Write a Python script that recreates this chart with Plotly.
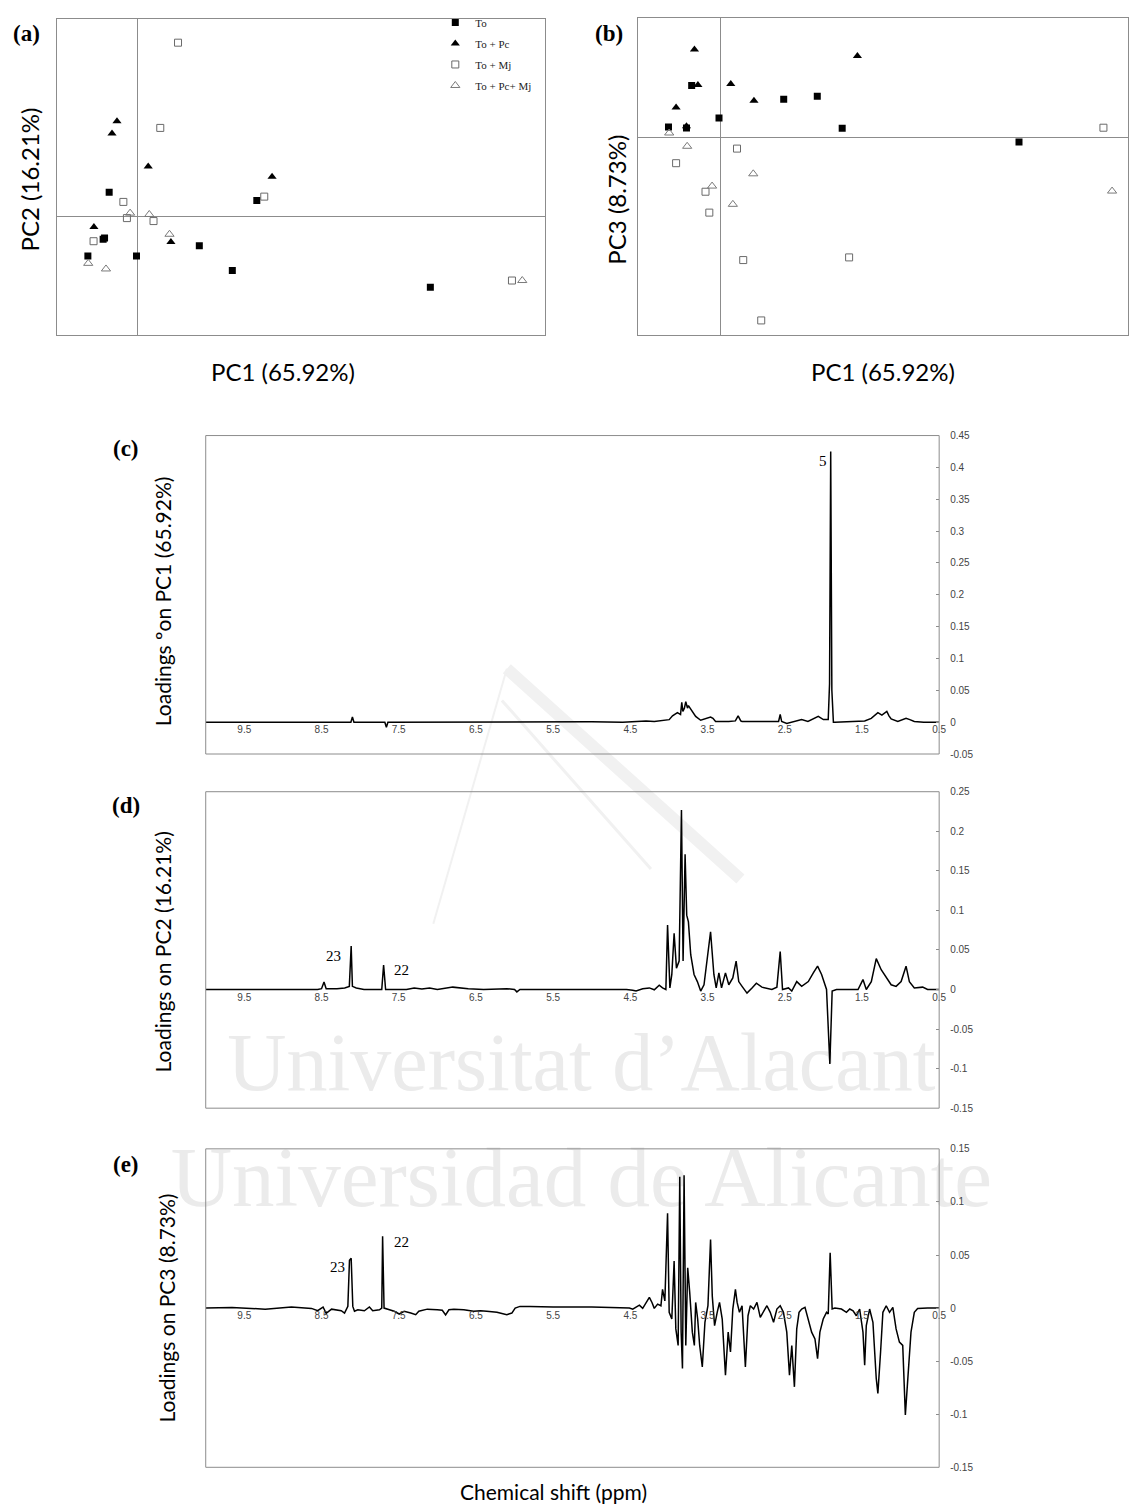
import plotly.graph_objects as go

W, H = 1135, 1511

# ---------------- PCA scores ----------------
# Panel (a): PC1 vs PC2
a_to_pc1 = [-0.80, -0.93, -0.97, -1.40, -0.03, 1.74, 2.67, 3.36, 8.25]
a_to_pc2 = [0.73, -0.65, -0.69, -1.20, -1.20, -0.89, -1.64, 0.48, -2.14]
a_pc_pc1 = [-0.58, -0.72, 0.30, 3.79, -1.23, 0.94]
a_pc_pc2 = [2.88, 2.51, 1.51, 1.20, -0.32, -0.77]
a_mj_pc1 = [1.14, 0.64, -0.40, 3.57, -0.30, 0.45, -1.24, 10.55]
a_mj_pc2 = [5.26, 2.68, 0.44, 0.60, -0.05, -0.14, -0.75, -1.94]
a_pcmj_pc1 = [-0.21, 0.33, 0.90, -1.39, -0.89, 10.84]
a_pcmj_pc2 = [0.10, 0.06, -0.54, -1.42, -1.59, -1.94]

# Panel (b): PC1 vs PC3
b_to_pc1 = [-1.50, -0.98, -0.83, -0.04, 1.83, 2.80, 3.52, 8.63]
b_to_pc3 = [0.31, 0.28, 1.56, 0.58, 1.15, 1.24, 0.27, -0.14]
b_pc_pc1 = [-0.75, 3.96, -0.65, 0.30, 0.97, -1.28, -0.98]
b_pc_pc3 = [2.65, 2.45, 1.58, 1.61, 1.10, 0.90, 0.33]
b_mj_pc1 = [11.07, 0.48, -1.28, -0.43, -0.32, 0.66, 3.72, 1.18]
b_mj_pc3 = [0.29, -0.34, -0.78, -1.64, -2.27, -3.70, -3.62, -5.52]
b_pcmj_pc1 = [-1.48, -0.96, 0.95, -0.24, 0.36, 11.32]
b_pcmj_pc3 = [0.13, -0.27, -1.10, -1.47, -2.02, -1.62]

group_names = ["To", "To + Pc", "To + Mj", "To + Pc+ Mj"]

# ---------------- Loadings (chemical shift, ppm) ----------------
pc1_ppm = [10.0, 9.0, 8.4, 8.12, 8.10, 8.08, 7.68, 7.66, 7.64, 6.5, 5.9, 5.0, 4.6,
           4.383, 4.297, 4.19, 4.083, 3.997, 3.954, 3.890, 3.850, 3.834, 3.820, 3.800,
           3.782, 3.760, 3.748, 3.718, 3.654, 3.589, 3.525, 3.461, 3.43, 3.396, 3.225,
           3.14, 3.104, 3.07, 3.053, 2.8, 2.58, 2.559, 2.54, 2.474, 2.40, 2.281, 2.20,
           2.066, 2.00, 1.937, 1.92, 1.905, 1.89, 1.87, 1.851, 1.465, 1.38, 1.294,
           1.242, 1.178, 1.15, 1.122, 1.036, 0.929, 0.88, 0.822, 0.7, 0.5]
pc1_load = [0.0, 0.0005, 0.0, 0.0, 0.008, 0.0, 0.0, -0.008, 0.0, 0.0005, 0.0, 0.0005, 0.0,
            0.001, 0.002, 0.001, 0.003, 0.004, 0.010, 0.015, 0.012, 0.031, 0.017, 0.022,
            0.032, 0.022, 0.026, 0.020, 0.009, 0.003, 0.005, 0.008, 0.006, 0.001, 0.001,
            0.002, 0.010, 0.002, 0.001, 0.0005, 0.001, 0.012, 0.001, -0.002, 0.0, 0.004, 0.001,
            0.009, 0.004, 0.004, 0.06, 0.425, 0.05, 0.0, 0.0, 0.002, 0.006, 0.015,
            0.011, 0.017, 0.010, 0.005, 0.001, 0.006, 0.004, 0.001, 0.0, 0.0]

pc2_ppm = [10.0, 9.0, 8.55, 8.50, 8.468, 8.44, 8.30, 8.20, 8.14, 8.116, 8.10, 8.05, 8.0,
           7.95, 7.72, 7.696, 7.67, 7.4, 7.3, 7.2, 7.1, 7.0, 6.8, 6.6, 6.4, 6.1, 6.0,
           5.97, 5.93, 5.0, 4.55,
           4.469, 4.426, 4.340, 4.254, 4.190, 4.126, 4.083, 4.040, 4.018, 3.988, 3.963,
           3.933, 3.903, 3.868, 3.838, 3.817, 3.791, 3.770, 3.748, 3.718, 3.675, 3.632,
           3.589, 3.546, 3.461, 3.418, 3.388, 3.353, 3.319, 3.268, 3.225, 3.173, 3.130,
           3.096, 3.053, 2.989, 2.924, 2.868, 2.796, 2.667, 2.602, 2.559, 2.529, 2.452,
           2.409, 2.345, 2.281, 2.195, 2.130, 2.075, 2.023, 1.959, 1.916, 1.886, 1.830,
           1.551, 1.487, 1.444, 1.379, 1.315, 1.251, 1.186, 1.122, 1.058, 0.993, 0.929,
           0.886, 0.822, 0.714, 0.650, 0.5]
pc2_load = [0.0, 0.0, 0.0, 0.001, 0.0096, 0.001, 0.001, 0.002, 0.004, 0.055, 0.004, 0.002, 0.001,
            0.0, 0.0, 0.031, 0.0, 0.0, 0.002, 0.0005, 0.002, 0.0, 0.003, 0.001, 0.0, 0.001, 0.0,
            -0.003, 0.0, 0.0, 0.0,
            -0.001, -0.002, 0.001, 0.002, -0.0004, 0.0054, 0.002, 0.0, 0.0815, 0.002, 0.019,
            0.071, 0.027, 0.036, 0.227, 0.036, 0.171, 0.094, 0.0855, 0.044, 0.019, 0.010,
            -0.002, 0.006, 0.073, 0.019, 0.002, 0.021, 0.002, 0.021, 0.006, 0.0146, 0.036,
            0.010, 0.004, -0.0046, 0.002, 0.008, 0.003, 0.0, 0.003, 0.048, 0.0, 0.002,
            -0.002, 0.010, 0.004, 0.010, 0.021, 0.0295, 0.019, 0.0, -0.094, -0.002, 0.0,
            0.0, 0.0125, 0.0, 0.010, 0.039, 0.025, 0.0146, 0.006, 0.004, 0.010, 0.0295,
            0.010, 0.002, 0.003, 0.0, 0.0]

pc3_ppm = [10.0, 9.66, 9.23, 8.89, 8.63, 8.55, 8.48, 8.44, 8.37, 8.245, 8.202, 8.159,
           8.138, 8.116, 8.095, 8.073, 8.03, 7.945, 7.88, 7.837, 7.75, 7.72, 7.709, 7.69,
           7.62, 7.558, 7.494, 7.43, 7.344, 7.28, 7.24, 7.13, 7.0, 6.936, 6.893, 6.85,
           6.786, 6.657, 6.53, 6.44, 6.36, 6.228, 6.1, 6.035, 5.992, 5.93, 5.8, 5.5, 5.0,
           4.6, 4.512, 4.469, 4.426, 4.383, 4.340, 4.297, 4.254, 4.220, 4.190, 4.147,
           4.104, 4.083, 4.053, 4.018, 3.997, 3.963, 3.933, 3.911, 3.881, 3.860, 3.842,
           3.825, 3.804, 3.782, 3.757, 3.731, 3.697, 3.671, 3.654, 3.628, 3.602, 3.568,
           3.534, 3.495, 3.461, 3.439, 3.409, 3.375, 3.345, 3.310, 3.268, 3.233, 3.203,
           3.173, 3.139, 3.117, 3.087, 3.053, 3.010, 2.976, 2.946, 2.903, 2.860, 2.817,
           2.774, 2.731, 2.688, 2.645, 2.602, 2.559, 2.517, 2.474, 2.439, 2.409, 2.375,
           2.345, 2.315, 2.281, 2.238, 2.195, 2.152, 2.109, 2.075, 2.045, 2.002, 1.959,
           1.937, 1.912, 1.886, 1.851, 1.766, 1.701, 1.658, 1.615, 1.573, 1.530, 1.487,
           1.465, 1.444, 1.401, 1.358, 1.315, 1.294, 1.259, 1.229, 1.186, 1.143, 1.100,
           1.058, 1.015, 0.972, 0.938, 0.907, 0.865, 0.822, 0.779, 0.650, 0.5]
pc3_load = [0.0, 0.0006, -0.001, 0.001, -0.0003, -0.0025, 0.001, -0.005, -0.001, -0.0025,
            -0.0047, 0.0016, 0.045, 0.047, 0.0016, -0.003, -0.0016, -0.0025, 0.001, -0.0025,
            -0.0016, 0.0, 0.0676, 0.0, -0.0016, -0.003, -0.0056, -0.003, -0.0047, -0.0062,
            -0.003, -0.001, -0.0016, -0.002, -0.0065, -0.0016, -0.001, -0.0016, -0.003,
            -0.0025, -0.003, -0.004, -0.0062, -0.0047, 0.0, 0.0016, 0.0016, 0.001, 0.001,
            0.0, 0.0, -0.001, 0.0007, 0.0028, -0.0003, 0.0053, 0.0100, 0.0053, -0.0003, 0.0037,
            0.0022, 0.0177, 0.0068, 0.0894, -0.0040, -0.0103, 0.0443, -0.0196, -0.0352, 0.1237,
            -0.0227, -0.0570, 0.1252, -0.0352, 0.0380, 0.0146, -0.0227, -0.0352, 0.0053,
            -0.0103, -0.0352, -0.0555, -0.0134, 0.0022, 0.0645, 0.0115, -0.0165, -0.0040,
            0.0053, -0.0103, -0.0633, -0.0227, -0.0414, -0.0009, 0.0177, 0.0053, -0.0040,
            0.0022, -0.0555, -0.0072, 0.0022, -0.0009, 0.0053, -0.0087, -0.0025, 0.0022,
            -0.0040, -0.0134, -0.0009, 0.0022, -0.0040, -0.0227, -0.0633, -0.0352, -0.0742,
            -0.0196, -0.0040, -0.0009, 0.0007, -0.0103, -0.0227, -0.0290, -0.0477, -0.0227,
            -0.0103, -0.0040, -0.0056, 0.0521, -0.0009, 0.0, -0.0009, -0.0040, -0.0009,
            -0.0025, -0.0072, -0.0009, -0.0227, -0.0539, -0.0165, -0.0009, -0.0134, -0.0664,
            -0.0804, -0.0414, -0.0040, 0.0022, -0.0040, 0.0007, -0.0196, -0.0321, -0.0352,
            -0.1007, -0.0664, -0.0227, -0.0040, -0.0003, 0.0, 0.0]

# Axis tick labels
ppm_ticks = [9.5, 8.5, 7.5, 6.5, 5.5, 4.5, 3.5, 2.5, 1.5, 0.5]
ppm_tick_text = ["9.5", "8.5", "7.5", "6.5", "5.5", "4.5", "3.5", "2.5", "1.5", "0.5"]
c_ticks = [0.45, 0.4, 0.35, 0.3, 0.25, 0.2, 0.15, 0.1, 0.05, 0, -0.05]
c_tick_text = ["0.45", "0.4", "0.35", "0.3", "0.25", "0.2", "0.15", "0.1", "0.05", "0", "-0.05"]
d_ticks = [0.25, 0.2, 0.15, 0.1, 0.05, 0, -0.05, -0.1, -0.15]
d_tick_text = ["0.25", "0.2", "0.15", "0.1", "0.05", "0", "-0.05", "-0.1", "-0.15"]
e_ticks = [0.15, 0.1, 0.05, 0, -0.05, -0.1, -0.15]
e_tick_text = ["0.15", "0.1", "0.05", "0", "-0.05", "-0.1", "-0.15"]


def xdom(left, right):
    return [left / W, min(right / W, 1.0)]


def ydom(top, bottom):
    return [1 - bottom / H, 1 - top / H]


def px(x):
    return x / W


def py(y):
    return 1 - y / H


fig = go.Figure()

styles = [
    dict(symbol="square", size=7, color="black"),
    dict(symbol="triangle-up", size=8, color="black"),
    dict(symbol="square-open", size=7, color="#6a6a6a", line=dict(width=1)),
    dict(symbol="triangle-up-open", size=8, color="#7a7a7a", line=dict(width=1)),
]

a_sets = [(a_to_pc1, a_to_pc2), (a_pc_pc1, a_pc_pc2), (a_mj_pc1, a_mj_pc2), (a_pcmj_pc1, a_pcmj_pc2)]
b_sets = [(b_to_pc1, b_to_pc3), (b_pc_pc1, b_pc_pc3), (b_mj_pc1, b_mj_pc3), (b_pcmj_pc1, b_pcmj_pc3)]

for name, st, (xs, ys) in zip(group_names, styles, a_sets):
    fig.add_trace(go.Scatter(x=xs, y=ys, mode="markers", name=name, marker=st,
                             xaxis="x", yaxis="y", legendgroup=name))
for name, st, (xs, ys) in zip(group_names, styles, b_sets):
    fig.add_trace(go.Scatter(x=xs, y=ys, mode="markers", name=name, marker=st,
                             xaxis="x2", yaxis="y2", legendgroup=name, showlegend=False))

for i, (sx, sy) in enumerate([(pc1_ppm, pc1_load), (pc2_ppm, pc2_load), (pc3_ppm, pc3_load)]):
    n = i + 3
    fig.add_trace(go.Scatter(x=sx, y=sy, mode="lines", line=dict(color="black", width=1.5),
                             xaxis=f"x{n}", yaxis=f"y{n}", showlegend=False))

frame = "#8c8c8c"
score_axis = dict(showline=True, mirror=True, linecolor=frame, linewidth=1, showgrid=False,
                  zeroline=True, zerolinecolor=frame, zerolinewidth=1,
                  showticklabels=False, ticks="")

spec = {
    3: dict(dom=ydom(433, 754), rng=[-0.05, 0.45], tv=c_ticks, tt=c_tick_text),
    4: dict(dom=ydom(792, 1111), rng=[-0.15, 0.25], tv=d_ticks, tt=d_tick_text),
    5: dict(dom=ydom(1152, 1473), rng=[-0.15, 0.15], tv=e_ticks, tt=e_tick_text),
}

layout = dict(
    width=W, height=H, margin=dict(l=0, r=0, t=0, b=0),
    paper_bgcolor="white", plot_bgcolor="rgba(0,0,0,0)",
    xaxis=dict(domain=xdom(57, 548), range=[-2.28, 11.47], anchor="y", **score_axis),
    yaxis=dict(domain=ydom(13, 332), range=[-3.60, 5.98], anchor="x", **score_axis),
    xaxis2=dict(domain=xdom(642, 1135), range=[-2.38, 11.78], anchor="y2", **score_axis),
    yaxis2=dict(domain=ydom(12, 332), range=[-5.97, 3.60], anchor="x2", **score_axis),
    legend=dict(x=438 / W, y=1 - 2 / H, xanchor="left", yanchor="top",
                font=dict(family="Liberation Serif", size=11, color="#222"),
                bgcolor="rgba(0,0,0,0)", itemwidth=30, tracegroupgap=2),
    showlegend=True,
)

tick_font = dict(family="Liberation Sans", size=10, color="#444")
for n, s in spec.items():
    d0, d1 = s["dom"]
    r0, r1 = s["rng"]
    zero_pos = d0 + (0 - r0) / (r1 - r0) * (d1 - d0)
    layout[f"xaxis{n}"] = dict(domain=xdom(207, 945), range=[10, 0.5], anchor="free",
                               position=zero_pos, showline=False, showgrid=False,
                               zeroline=False, ticks="", tickvals=ppm_ticks,
                               ticktext=ppm_tick_text, tickfont=tick_font)
    layout[f"yaxis{n}"] = dict(domain=s["dom"], range=s["rng"], anchor=f"x{n}", side="right",
                               showline=False, showgrid=False, zeroline=False,
                               ticks="inside", ticklen=3, tickcolor=frame,
                               tickvals=s["tv"], ticktext=s["tt"], tickfont=tick_font,
                               ticklabelstandoff=10)

fig.update_layout(**layout)

# Frames around the loading panels
shapes = []
for n in spec:
    shapes.append(dict(type="rect", xref=f"x{n} domain", yref=f"y{n} domain",
                       x0=0, x1=1, y0=0, y1=1, line=dict(color=frame, width=1)))

# Institutional watermark behind the plots: faint logo strokes and the two names
logo_color = "#f1f1f1"
for (x0, y0, x1, y1, w) in [(510, 668, 745, 880, 12), (505, 700, 655, 870, 3),
                            (510, 668, 436, 925, 2)]:
    shapes.append(dict(type="line", xref="paper", yref="paper",
                       x0=px(x0), y0=py(y0), x1=px(x1), y1=py(y1),
                       line=dict(color=logo_color, width=w), layer="below"))

wm_color = "#ebebeb"
shapes.append(dict(type="rect", xref="paper", yref="paper",
                   x0=px(180), x1=px(990), y0=py(1097), y1=py(1015),
                   line=dict(width=0), fillcolor="rgba(0,0,0,0)", layer="below",
                   label=dict(text="Universitat d’Alacant",
                              font=dict(family="Liberation Serif", size=82, color=wm_color),
                              textposition="middle center")))
shapes.append(dict(type="rect", xref="paper", yref="paper",
                   x0=px(150), x1=px(1020), y0=py(1212), y1=py(1130),
                   line=dict(width=0), fillcolor="rgba(0,0,0,0)", layer="below",
                   label=dict(text="Universidad de Alicante",
                              font=dict(family="Liberation Serif", size=85, color=wm_color),
                              textposition="middle center")))
fig.update_layout(shapes=shapes)

ann = []
panel_font = dict(family="Liberation Serif", size=23, color="black")
for txt, x, y in [("<b>(a)</b>", 27, 28), ("<b>(b)</b>", 613, 28), ("<b>(c)</b>", 127, 446),
                  ("<b>(d)</b>", 127, 806), ("<b>(e)</b>", 127, 1168)]:
    ann.append(dict(text=txt, x=px(x), y=py(y), xref="paper", yref="paper",
                    showarrow=False, font=panel_font, xanchor="center", yanchor="middle"))

title_font = dict(family="Lato", size=24, color="black")
load_font = dict(family="Lato", size=21, color="black")
for txt, x, y, ang, f in [
    ("PC2 (16.21%)", 30, 175, -90, title_font),
    ("PC3 (8.73%)", 620, 195, -90, title_font),
    ("PC1 (65.92%)", 285, 368, 0, title_font),
    ("PC1 (65.92%)", 888, 368, 0, title_font),
    ("Loadings ºon PC1 (65.92%)", 163, 600, -90, load_font),
    ("Loadings on PC2 (16.21%)", 163, 953, -90, load_font),
    ("Loadings on PC3 (8.73%)", 168, 1312, -90, load_font),
    ("Chemical shift (ppm)", 557, 1497, 0, load_font),
]:
    ann.append(dict(text=txt, x=px(x), y=py(y), xref="paper", yref="paper",
                    showarrow=False, font=f, textangle=ang, xanchor="center", yanchor="middle"))

peak_font = dict(family="Liberation Serif", size=15, color="black")
for txt, n, x, y in [("5", 3, 2.0, 0.41), ("23", 4, 8.35, 0.042), ("22", 4, 7.47, 0.025),
                     ("23", 5, 8.29, 0.039), ("22", 5, 7.47, 0.062)]:
    ann.append(dict(text=txt, x=x, y=y, xref=f"x{n}", yref=f"y{n}", showarrow=False,
                    font=peak_font, xanchor="center", yanchor="middle"))

fig.update_layout(annotations=ann)

fig.write_html("out.html")
